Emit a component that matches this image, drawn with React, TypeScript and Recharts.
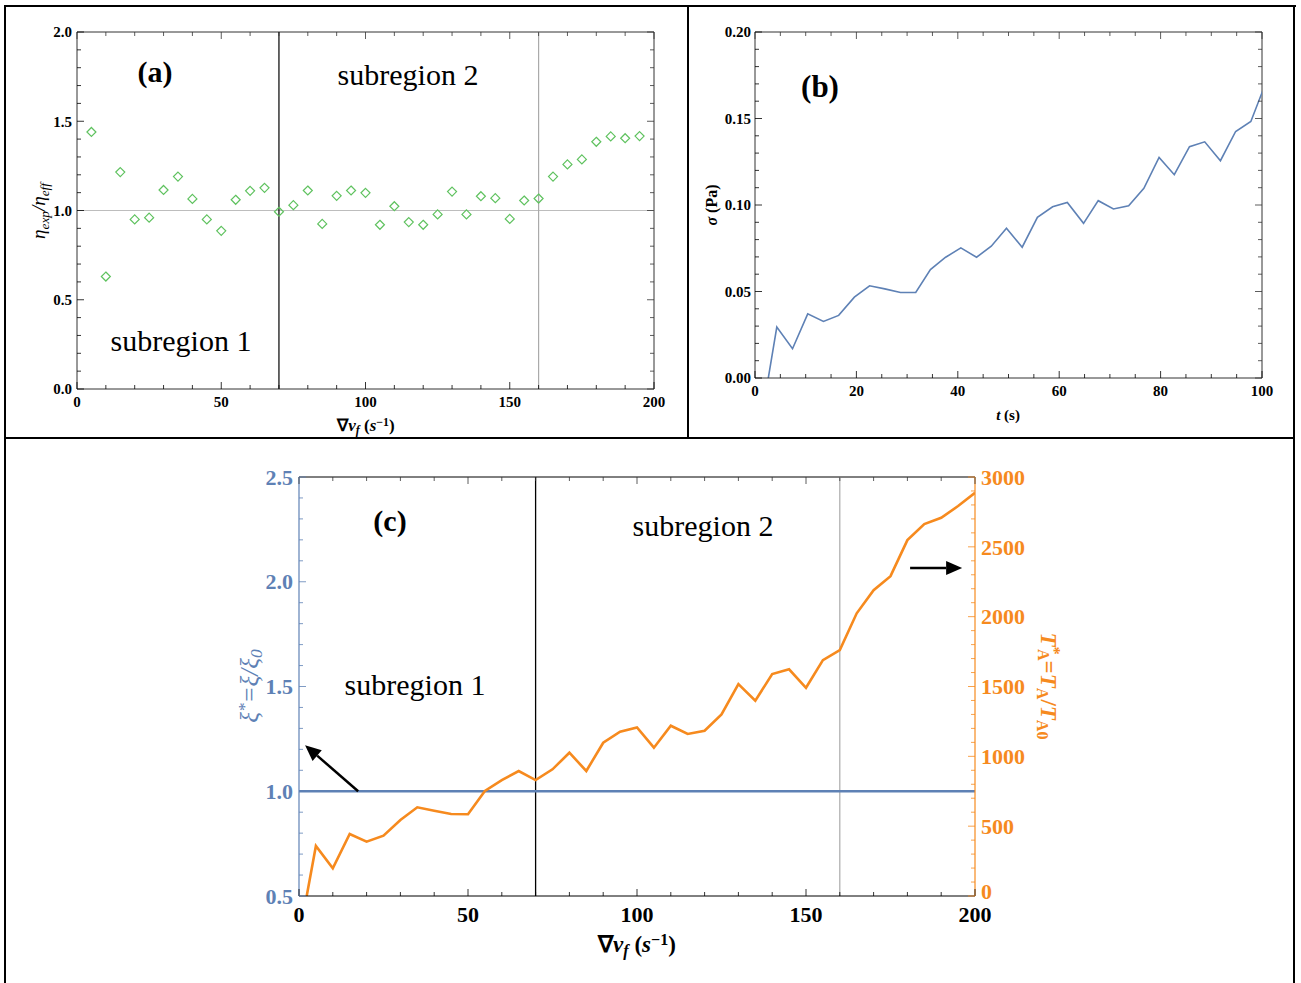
import React from 'react';
import { ComposedChart, Line, Scatter, XAxis, YAxis, ReferenceLine } from 'recharts';

const SERIF = '"Liberation Serif", "Times New Roman", serif';
const BLUE = '#5e81b5';
const ORANGE = '#f68a1e';
const GREEN = '#5fc25f';
const FRAME = '#333';

// (a) eta_exp / eta_eff against velocity gradient
const gradA = [5, 10, 15, 20, 25, 30, 35, 40, 45, 50, 55, 60, 65, 70, 75, 80, 85, 90, 95, 100,
  105, 110, 115, 120, 125, 130, 135, 140, 145, 150, 155, 160, 165, 170, 175, 180, 185, 190, 195];
const ratioA = [1.44, 0.63, 1.215, 0.95, 0.96, 1.115, 1.19, 1.065, 0.95, 0.886, 1.06, 1.11, 1.127,
  0.993, 1.03, 1.112, 0.925, 1.082, 1.112, 1.099, 0.92, 1.024, 0.935, 0.92, 0.978, 1.106, 0.978,
  1.08, 1.069, 0.953, 1.056, 1.067, 1.19, 1.258, 1.286, 1.385, 1.415, 1.405, 1.417];

// (b) stress against time
const timeB = [1.2, 4.3, 7.4, 10.4, 13.5, 16.5, 19.6, 22.6, 25.6, 28.7, 31.7, 34.6, 37.6, 40.6,
  43.7, 46.6, 49.6, 52.7, 55.7, 58.7, 61.6, 64.8, 67.7, 70.7, 73.7, 76.7, 79.7, 82.7, 85.7, 88.7,
  91.8, 94.8, 97.8, 100.8];
const stressB = [-0.025, 0.0294, 0.0169, 0.0371, 0.0327, 0.0362, 0.0467, 0.0533, 0.0515, 0.0494,
  0.0494, 0.0627, 0.0698, 0.0752, 0.0698, 0.0762, 0.0865, 0.0756, 0.0929, 0.099, 0.1015, 0.0894,
  0.1025, 0.0977, 0.0996, 0.1096, 0.1275, 0.1175, 0.1337, 0.1365, 0.1256, 0.1425, 0.1483, 0.171];

// (c) xi* and T_A* against velocity gradient
const gradC = [0, 5, 10, 15, 20, 25, 30, 35, 40, 45, 50, 55, 60, 65, 70, 75, 80, 85, 90, 95, 100,
  105, 110, 115, 120, 125, 130, 135, 140, 145, 150, 155, 160, 165, 170, 175, 180, 185, 190, 195, 200];
const tensionC = [-300, 358, 198, 444, 389, 432, 544, 635, 611, 587, 585, 752, 830, 895, 830, 907,
  1026, 895, 1097, 1176, 1207, 1062, 1219, 1160, 1183, 1300, 1517, 1398, 1589, 1623, 1491, 1689,
  1761, 2024, 2190, 2290, 2548, 2663, 2708, 2792, 2887];
const gradXi = [0, 200];
const xiC = [1.0, 1.0];

// boundaries between subregions
const boundaryMain = 70;
const boundaryEnd = 160;

// arrows in (c), data coordinates [x, y]
const arrowLeft = [[17.5, 1.0], [1.8, 1.22]];
const arrowRight = [[180.8, 2348], [196.2, 2348]];

const dataA = gradA.map((x, i) => ({ x, y: ratioA[i] }));
const dataB = timeB.map((t, i) => ({ t, s: stressB[i] }));
const dataC = gradC.map((x, i) => ({ x, ta: tensionC[i] }));
const dataXi = gradXi.map((x, i) => ({ x, xi: xiC[i] }));

const steps = (from: number, to: number, step: number) => {
  const out: number[] = [];
  for (let v = from; v <= to + step / 2; v += step) out.push(Math.round(v * 1e6) / 1e6);
  return out;
};

type Side = 'bottom' | 'left' | 'right';
type TickOpts = {
  color?: string; size?: number; gap?: number; digits?: number; labels?: boolean;
  mirror?: number; // distance to the opposite frame side, 0 = no mirrored ticks
  liftZero?: number; // raise the "0" label (keeps it off the x labels below)
};

// Mathematica-like frame ticks: pointing inward, longer on the majors,
// optionally repeated on the opposite side of the frame
function frameTick(side: Side, major: number, o: TickOpts = {}) {
  const { color = '#000', size = 15, gap = 5, digits = 0, labels = true, mirror = 0, liftZero = 0 } = o;
  return (props: any) => {
    const { x, y, payload } = props;
    const v = payload.value as number;
    const isMajor = Math.abs(v / major - Math.round(v / major)) < 1e-6;
    const len = isMajor ? 7 : 4;
    const txt = labels && isMajor ? v.toFixed(digits) : null;
    const tstyle = { fontFamily: SERIF, fontWeight: 700, fontSize: size, fill: color };
    const mc = '#333';
    if (side === 'bottom') {
      return (
        <g>
          <line x1={x} y1={y} x2={x} y2={y - len} stroke={color} strokeWidth={0.8} />
          {mirror > 0 && <line x1={x} y1={y - mirror} x2={x} y2={y - mirror + len} stroke={mc} strokeWidth={0.8} />}
          {txt && <text x={x} y={y + gap} textAnchor="middle" style={tstyle}>{txt}</text>}
        </g>
      );
    }
    if (side === 'left') {
      return (
        <g>
          <line x1={x} y1={y} x2={x + len} y2={y} stroke={color} strokeWidth={0.8} />
          {mirror > 0 && <line x1={x + mirror} y1={y} x2={x + mirror - len} y2={y} stroke={mc} strokeWidth={0.8} />}
          {txt && <text x={x - gap} y={y + size * 0.35} textAnchor="end" style={tstyle}>{txt}</text>}
        </g>
      );
    }
    const ty = y + size * 0.35 - (v === 0 ? liftZero : 0);
    return (
      <g>
        <line x1={x} y1={y} x2={x - len} y2={y} stroke={color} strokeWidth={0.8} />
        {txt && <text x={x + gap} y={ty} textAnchor="start" style={tstyle}>{txt}</text>}
      </g>
    );
  };
}

const Diamond = (p: any) => {
  const { cx, cy } = p;
  const r = 4.5;
  return <path d={`M${cx},${cy - r}L${cx + r},${cy}L${cx},${cy + r}L${cx - r},${cy}Z`} fill="none" stroke={GREEN} strokeWidth={1.2} />;
};

const Arrow = (p: any) => {
  const { x1, y1, x2, y2 } = p;
  const a = Math.atan2(y2 - y1, x2 - x1);
  const L = 16;
  const W = 7;
  const bx = x2 - L * Math.cos(a);
  const by = y2 - L * Math.sin(a);
  const px = -Math.sin(a) * W;
  const py = Math.cos(a) * W;
  return (
    <g>
      <line x1={x1} y1={y1} x2={bx} y2={by} stroke="#000" strokeWidth={2.5} />
      <polygon points={`${x2},${y2} ${bx + px},${by + py} ${bx - px},${by - py}`} fill="#000" />
    </g>
  );
};

const Note = ({ x, y, size, bold, italic, color, rotate, children }: any) => (
  <div
    style={{
      position: 'absolute', left: x, top: y, transform: `translate(-50%, -50%) rotate(${rotate || 0}deg)`,
      fontFamily: SERIF, fontSize: size, fontWeight: bold ? 700 : 400, fontStyle: italic ? 'italic' : 'normal',
      color: color || '#000', whiteSpace: 'nowrap', lineHeight: 1, pointerEvents: 'none',
    }}
  >
    {children}
  </div>
);

const sub = { fontSize: '0.7em', verticalAlign: '-0.25em' };
const sup = { fontSize: '0.7em', verticalAlign: '0.45em' };

const GradLabel = () => (
  <span>
    ∇<i>v</i><i style={sub}>f</i> (<i>s</i><span style={sup}>−1</span>)
  </span>
);

// axes are 1px boxes (0 hides them); plot (a): 77..654 x 32..389
function PanelA() {
  return (
    <ComposedChart width={688} height={438} data={dataA} margin={{ top: 32, right: 34, bottom: 48, left: 76 }}>
      <XAxis type="number" dataKey="x" domain={[0, 200]} allowDataOverflow ticks={steps(0, 200, 10)} interval={0} height={1}
        axisLine={{ stroke: FRAME }} tickLine={false} tickSize={0} tickMargin={0}
        tick={frameTick('bottom', 50, { size: 15, gap: 18, mirror: 357 })} />
      <YAxis type="number" dataKey="y" domain={[0, 2]} allowDataOverflow ticks={steps(0, 2, 0.1)} interval={0} width={1}
        axisLine={{ stroke: FRAME }} tickLine={false} tickSize={0} tickMargin={0}
        tick={frameTick('left', 0.5, { size: 15, gap: 5, digits: 1, mirror: 577 })} />
      <ReferenceLine y={2} stroke={FRAME} strokeWidth={1} />
      <ReferenceLine x={200} stroke={FRAME} strokeWidth={1} />
      <ReferenceLine y={1} stroke="#bdbdbd" strokeWidth={1.2} />
      <ReferenceLine x={boundaryEnd} stroke="#aaaaaa" strokeWidth={1.2} />
      <ReferenceLine x={boundaryMain} stroke="#000" strokeWidth={1.2} />
      <Scatter data={dataA} shape={Diamond} isAnimationActive={false} />
    </ComposedChart>
  );
}

// plot (b): 755..1262 x 32..378
function PanelB() {
  return (
    <ComposedChart width={606} height={438} data={dataB} margin={{ top: 32, right: 32, bottom: 59, left: 66 }}>
      <XAxis type="number" dataKey="t" domain={[0, 100]} allowDataOverflow ticks={steps(0, 100, 5)} interval={0} height={1}
        axisLine={{ stroke: FRAME }} tickLine={false} tickSize={0} tickMargin={0}
        tick={frameTick('bottom', 20, { size: 15, gap: 18, mirror: 346 })} />
      <YAxis type="number" domain={[0, 0.2]} allowDataOverflow ticks={steps(0, 0.2, 0.01)} interval={0} width={1}
        axisLine={{ stroke: FRAME }} tickLine={false} tickSize={0} tickMargin={0}
        tick={frameTick('left', 0.05, { size: 15, gap: 4, digits: 2, mirror: 507 })} />
      <ReferenceLine y={0.2} stroke={FRAME} strokeWidth={1} />
      <ReferenceLine x={100} stroke={FRAME} strokeWidth={1} />
      <Line type="linear" dataKey="s" stroke={BLUE} strokeWidth={1.6} dot={false} isAnimationActive={false} />
    </ComposedChart>
  );
}

// plot (c): 299..975 x 477..896
function PanelC() {
  return (
    <ComposedChart width={1301} height={545} data={dataC} margin={{ top: 39, right: 325, bottom: 86, left: 298 }}>
      <XAxis type="number" dataKey="x" domain={[0, 200]} allowDataOverflow ticks={steps(0, 200, 10)} interval={0} height={1}
        axisLine={{ stroke: '#000' }} tickLine={false} tickSize={0} tickMargin={0}
        tick={frameTick('bottom', 50, { size: 22, gap: 26, mirror: 419 })} />
      <YAxis yAxisId="xi" type="number" domain={[0.5, 2.5]} allowDataOverflow ticks={steps(0.5, 2.5, 0.1)} interval={0} width={1}
        axisLine={{ stroke: BLUE, strokeWidth: 1.2 }} tickLine={false} tickSize={0} tickMargin={0}
        tick={frameTick('left', 0.5, { size: 22, gap: 6, digits: 1, color: BLUE })} />
      <YAxis yAxisId="t" orientation="right" type="number" domain={[0, 3000]} allowDataOverflow ticks={steps(0, 3000, 100)} interval={0} width={1}
        axisLine={{ stroke: ORANGE, strokeWidth: 1.2 }} tickLine={false} tickSize={0} tickMargin={0}
        tick={frameTick('right', 500, { size: 22, gap: 6, color: ORANGE, liftZero: 5 })} />
      <ReferenceLine yAxisId="xi" y={2.5} stroke="#000" strokeWidth={1} />
      <ReferenceLine yAxisId="xi" x={boundaryEnd} stroke="#aaaaaa" strokeWidth={1.2} />
      <ReferenceLine yAxisId="xi" x={boundaryMain} stroke="#000" strokeWidth={1.3} />
      <Line yAxisId="xi" data={dataXi} type="linear" dataKey="xi" stroke={BLUE} strokeWidth={2.6} dot={false} isAnimationActive={false} />
      <Line yAxisId="t" type="linear" dataKey="ta" stroke={ORANGE} strokeWidth={2.6} dot={false} isAnimationActive={false} />
      <ReferenceLine yAxisId="xi" segment={arrowLeft.map(([x, y]) => ({ x, y }))} shape={Arrow} />
      <ReferenceLine yAxisId="t" segment={arrowRight.map(([x, y]) => ({ x, y }))} shape={Arrow} />
    </ComposedChart>
  );
}

export default function App() {
  const edge = (style: any) => <div style={{ position: 'absolute', background: '#000', ...style }} />;
  return (
    <div style={{ position: 'absolute', left: 0, top: 0, width: 1301, height: 983, background: '#fff', overflow: 'hidden' }}>
      <div style={{ position: 'absolute', left: 0, top: 0 }}><PanelA /></div>
      <div style={{ position: 'absolute', left: 688, top: 0 }}><PanelB /></div>
      <div style={{ position: 'absolute', left: 0, top: 438 }}><PanelC /></div>

      {/* panel (a) texts */}
      <Note x={155} y={72} size={30} bold>(a)</Note>
      <Note x={408} y={75} size={30}>subregion 2</Note>
      <Note x={181} y={341} size={30}>subregion 1</Note>
      <Note x={40} y={211} size={19} italic rotate={-90}>
        η<span style={sub}>exp</span>/η<span style={sub}>eff</span>
      </Note>
      <Note x={366} y={427} size={17} bold><GradLabel /></Note>

      {/* panel (b) texts */}
      <Note x={820} y={86} size={31} bold>(b)</Note>
      <Note x={712} y={205} size={16} bold rotate={-90}><i>σ</i> (Pa)</Note>
      <Note x={1008} y={415} size={15} bold><i>t</i> (s)</Note>

      {/* panel (c) texts */}
      <Note x={390} y={521} size={30} bold>(c)</Note>
      <Note x={703} y={526} size={30}>subregion 2</Note>
      <Note x={415} y={685} size={30}>subregion 1</Note>
      <Note x={251} y={686} size={25} italic rotate={-90} color={BLUE}>
        ξ<span style={sup}>*</span>=ξ/ξ<span style={sub}>0</span>
      </Note>
      <Note x={1048} y={686} size={23} bold rotate={90} color={ORANGE}>
        <i>T</i><span style={sup}>*</span><span style={{ ...sub, marginLeft: '-0.35em' }}>A</span>=<i>T</i><span style={sub}>A</span>/<i>T</i><span style={sub}>A0</span>
      </Note>
      <Note x={637} y={946} size={23} bold><GradLabel /></Note>

      {/* figure frame */}
      {edge({ left: 4, top: 5, width: 1292, height: 2 })}
      {edge({ left: 4, top: 5, width: 2, height: 978 })}
      {edge({ left: 1293, top: 5, width: 2, height: 978 })}
      {edge({ left: 4, top: 437, width: 1291, height: 2 })}
      {edge({ left: 687, top: 5, width: 2, height: 433 })}
    </div>
  );
}
